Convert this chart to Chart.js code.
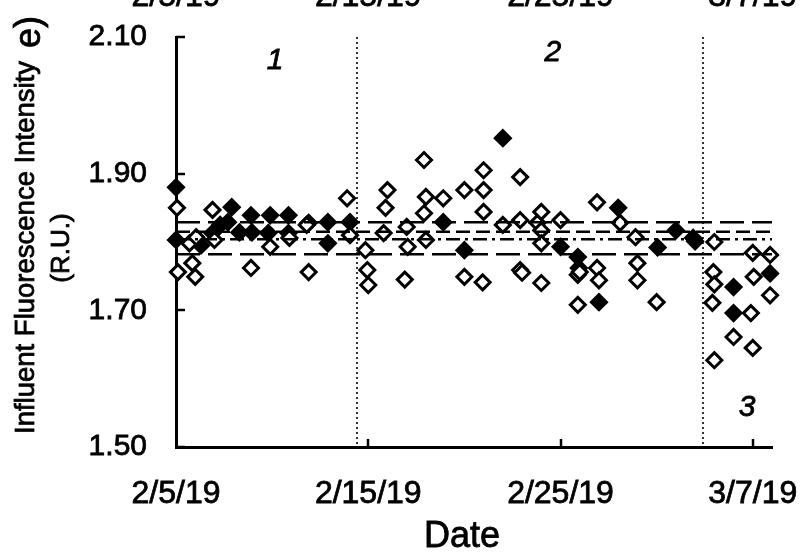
<!DOCTYPE html>
<html>
<head>
<meta charset="utf-8">
<script src="https://cdn.jsdelivr.net/npm/chart.js@4.4.1/dist/chart.umd.min.js"></script>
<style>
    html, body { margin: 0; padding: 0; background: #fff; }
    canvas { display: block; }
</style>
</head>
<body>
<canvas id="grafico" width="801" height="552"></canvas>
<script>
// Dias contados a partir de 2/5/19 (losangos vazios)
const diasAbertos = [
    0.05, 0.1, 0.7, 0.85, 1.0, 1.05, 1.9, 2.0, 3.9, 4.9, 5.9, 6.8, 6.9, 8.9, 9.05,
    9.85, 9.95, 10.0, 10.8, 10.9, 11.0, 11.9, 12.0, 12.05, 12.9, 13.0, 12.9, 13.0, 13.9,
    15.0, 15.0, 16.0, 16.0, 16.0, 15.95, 17.0, 17.9, 17.9, 17.9, 18.0, 18.8, 19.0, 19.0,
    19.0, 19.0, 20.0, 20.9, 21.0, 20.9, 21.9, 21.9, 22.0, 23.1, 23.9, 24.0, 24.0, 25.0,
    28.0, 27.95, 28.0, 27.9, 28.0, 29.0, 29.9, 30.0, 30.0, 30.05, 30.9, 30.9
];
const valoresAbertos = [
    1.850, 1.756, 1.798, 1.769, 1.749, 1.807, 1.847, 1.803, 1.762, 1.793, 1.806, 1.825, 1.756, 1.864, 1.810,
    1.788, 1.759, 1.737, 1.813, 1.850, 1.876, 1.745, 1.822, 1.793, 1.920, 1.866, 1.842, 1.803, 1.864,
    1.876, 1.749, 1.905, 1.876, 1.844, 1.741, 1.825, 1.895, 1.832, 1.759, 1.755, 1.828, 1.844, 1.817,
    1.798, 1.740, 1.832, 1.752, 1.756, 1.708, 1.858, 1.762, 1.744, 1.828, 1.807, 1.769, 1.744, 1.712,
    1.800, 1.756, 1.738, 1.711, 1.627, 1.661, 1.696, 1.645, 1.784, 1.749, 1.781, 1.722
];

// Losangos cheios
const diasCheios = [
    0, 0, 1.3, 1.9, 2.3, 2.7, 2.9, 3.3, 3.9, 3.95, 4.9, 4.8, 5.85, 5.85, 6.9, 7.9, 7.9, 9.05,
    13.9, 15.0, 17.0, 20.0, 20.9, 20.95, 22.0, 23.0, 25.05, 26.0, 26.9, 27.0,
    29.0, 29.0, 30.9
];
const valoresCheios = [
    1.880, 1.803, 1.795, 1.813, 1.825, 1.829, 1.851, 1.814, 1.839, 1.814, 1.839, 1.813, 1.839, 1.813, 1.828, 1.829, 1.798, 1.829,
    1.829, 1.788, 1.952, 1.793, 1.778, 1.762, 1.712, 1.850, 1.792, 1.817, 1.806, 1.801,
    1.734, 1.696, 1.754
];

// Linhas horizontais de referência
const limites = [1.829, 1.815, 1.804, 1.782];
const tracosLimites = [[24, 8], [14, 6], [14, 5, 3, 5], [24, 8]];

// Divisões entre as fases e rótulos
const divisoesFase = [9.4, 27.4];
const rotulosFase = ['1', '2', '3'];

// Eixos
const diasTicks = [0, 10, 20, 30];
const rotulosData = ['2/5/19', '2/15/19', '2/25/19', '3/7/19'];
const ticksY = [1.50, 1.70, 1.90, 2.10];

const FONTE = '"Liberation Sans", Arial, sans-serif';

// Posição dos números das fases (em coordenadas de dados)
const ancorasFase = [[5.15, 2.066], [19.6, 2.077], [29.7, 1.557]];

// Zerar o espaço extra que o Chart.js reserva para os rótulos das pontas
function ajustarEixo(scale, tamanho) {
    if (scale.isHorizontal()) {
        scale.height = tamanho;
    } else {
        scale.width = tamanho;
    }
    scale.paddingTop = 0;
    scale.paddingBottom = 0;
    scale.paddingLeft = 0;
    scale.paddingRight = 0;
}

// Texto com contorno fino para ficar mais encorpado, como no original
function escrever(ctx, texto, x, y) {
    ctx.fillText(texto, x, y);
    ctx.strokeText(texto, x, y);
}

const decoracoes = {
    id: 'decoracoes',
    beforeDatasetsDraw(chart) {
        const { ctx, chartArea, scales: { x } } = chart;
        ctx.save();
        ctx.strokeStyle = '#333';
        ctx.lineWidth = 2;
        ctx.setLineDash([2, 3]);
        divisoesFase.forEach(d => {
            const px = Math.round(x.getPixelForValue(d));
            ctx.beginPath();
            ctx.moveTo(px, chartArea.top);
            ctx.lineTo(px, chartArea.bottom);
            ctx.stroke();
        });
        ctx.restore();
    },
    afterDraw(chart) {
        const { ctx, chartArea, scales: { x, y } } = chart;
        ctx.save();
        ctx.fillStyle = '#000';
        ctx.strokeStyle = '#000';

        // Marcas internas dos eixos
        ctx.lineWidth = 2.5;
        ticksY.forEach(v => {
            const py = Math.round(y.getPixelForValue(v));
            ctx.beginPath();
            ctx.moveTo(chartArea.left, py);
            ctx.lineTo(chartArea.left + 9, py);
            ctx.stroke();
        });
        diasTicks.slice(1).forEach(d => {
            const px = Math.round(x.getPixelForValue(d));
            ctx.beginPath();
            ctx.moveTo(px, chartArea.bottom);
            ctx.lineTo(px, chartArea.bottom - 8);
            ctx.stroke();
        });

        ctx.lineWidth = 0.8;

        // Números das fases
        ctx.font = 'italic 30px ' + FONTE;
        ctx.textAlign = 'center';
        ctx.textBaseline = 'middle';
        rotulosFase.forEach((r, i) => {
            escrever(ctx, r, x.getPixelForValue(ancorasFase[i][0]), y.getPixelForValue(ancorasFase[i][1]));
        });

        // Rótulos cortados do painel de cima
        ctx.font = '32px ' + FONTE;
        ctx.textBaseline = 'alphabetic';
        diasTicks.forEach((d, i) => {
            escrever(ctx, rotulosData[i], x.getPixelForValue(d), 6);
        });

        // Título do eixo x
        ctx.font = '36px ' + FONTE;
        escrever(ctx, 'Date', 462, 547);

        // Título do eixo y
        ctx.save();
        ctx.translate(34, 434);
        ctx.rotate(-Math.PI / 2);
        ctx.textAlign = 'left';
        ctx.font = '27.5px ' + FONTE;
        escrever(ctx, 'Influent Fluorescence Intensity', 0, 0);
        ctx.restore();

        ctx.save();
        ctx.translate(40, 48);
        ctx.rotate(-Math.PI / 2);
        ctx.textAlign = 'left';
        ctx.font = '36px ' + FONTE;
        escrever(ctx, 'e)', 0, 0);
        ctx.restore();

        ctx.save();
        ctx.translate(69, 248);
        ctx.rotate(-Math.PI / 2);
        ctx.textAlign = 'center';
        ctx.font = '26px ' + FONTE;
        escrever(ctx, '(R.U.)', 0, 0);
        ctx.restore();

        ctx.restore();
    }
};

const pontos = (dias, valores) => dias.map((d, i) => ({ x: d, y: valores[i] }));

const datasetsLimites = limites.map((v, i) => ({
    type: 'scatter',
    showLine: true,
    data: [{ x: 0, y: v }, { x: 31, y: v }],
    borderColor: '#000',
    borderWidth: 2.5,
    borderDash: tracosLimites[i],
    pointRadius: 0,
    order: 0
}));

new Chart(document.getElementById('grafico'), {
    type: 'scatter',
    data: {
        datasets: [
            {
                data: pontos(diasCheios, valoresCheios),
                pointStyle: 'rectRot',
                pointRadius: 7.5,
                borderWidth: 3,
                borderColor: '#000',
                backgroundColor: '#000',
                clip: false,
                order: 2
            },
            {
                data: pontos(diasAbertos, valoresAbertos),
                pointStyle: 'rectRot',
                pointRadius: 7.5,
                borderWidth: 3,
                borderColor: '#000',
                backgroundColor: '#fff',
                clip: false,
                order: 1
            },
            ...datasetsLimites
        ]
    },
    options: {
        responsive: false,
        animation: false,
        layout: { padding: { top: 37, right: 29, left: 0, bottom: 0 } },
        plugins: {
            legend: { display: false },
            tooltip: { enabled: false }
        },
        scales: {
            x: {
                type: 'linear',
                min: 0,
                max: 31,
                afterBuildTicks: scale => { scale.ticks = diasTicks.map(v => ({ value: v })); },
                afterFit: scale => ajustarEixo(scale, 105),
                grid: { display: false, drawTicks: false },
                border: { display: true, color: '#000', width: 3 },
                ticks: {
                    padding: 28,
                    color: '#000',
                    textStrokeColor: '#000',
                    textStrokeWidth: 0.8,
                    font: { family: FONTE, size: 32 },
                    maxRotation: 0,
                    callback: v => rotulosData[diasTicks.indexOf(v)]
                }
            },
            y: {
                min: 1.5,
                max: 2.1,
                afterBuildTicks: scale => { scale.ticks = ticksY.map(v => ({ value: v })); },
                afterFit: scale => ajustarEixo(scale, 176),
                grid: { display: false, drawTicks: false },
                border: { display: true, color: '#000', width: 3 },
                ticks: {
                    padding: 29,
                    color: '#000',
                    textStrokeColor: '#000',
                    textStrokeWidth: 0.8,
                    font: { family: FONTE, size: 30 },
                    callback: v => v.toFixed(2)
                }
            }
        }
    },
    plugins: [decoracoes]
});
</script>
</body>
</html>
